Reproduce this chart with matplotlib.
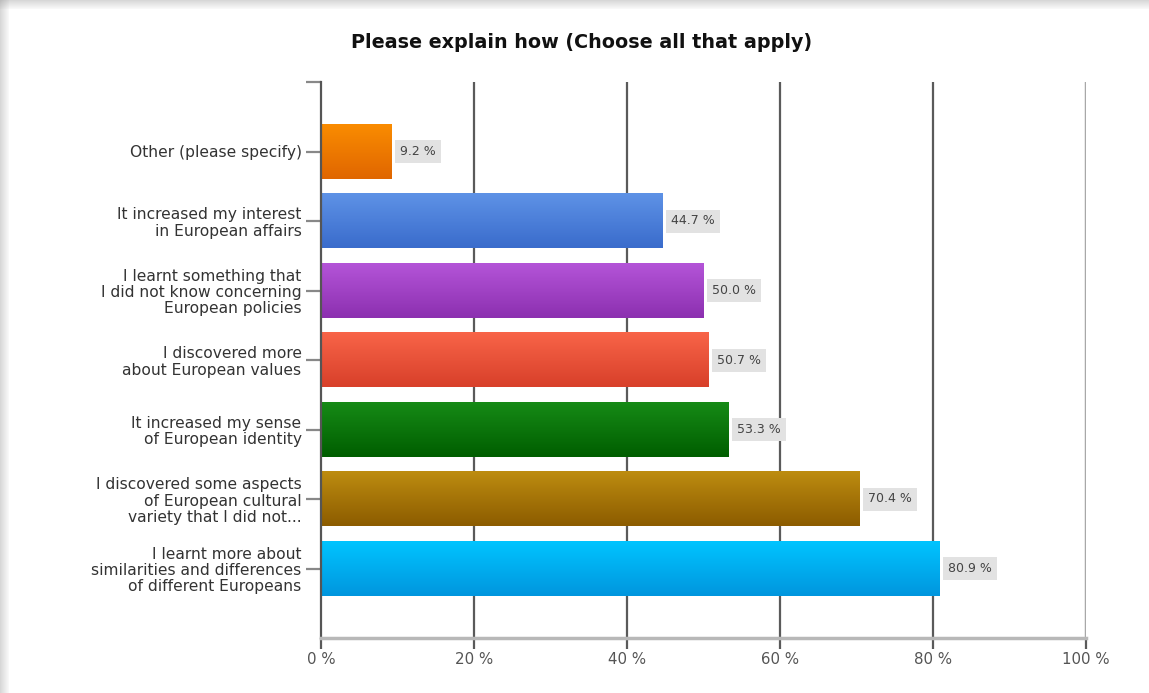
import numpy as np
import matplotlib
matplotlib.use('Agg')
import matplotlib.pyplot as plt
from matplotlib.colors import LinearSegmentedColormap
from matplotlib.patches import Rectangle

plt.rcParams['font.family'] = ['DejaVu Sans']

# data (bottom to top)
categories = ['I learnt more about\nsimilarities and differences\nof different Europeans',
              'I discovered some aspects\nof European cultural\nvariety that I did not...',
              'It increased my sense\nof European identity',
              'I discovered more\nabout European values',
              'I learnt something that\nI did not know concerning\nEuropean policies',
              'It increased my interest\nin European affairs',
              'Other (please specify)']
values = [80.9, 70.4, 53.3, 50.7, 50.0, 44.7, 9.2]
ticks = [0, 20, 40, 60, 80, 100]
tick_labels = ['0 %', '20 %', '40 %', '60 %', '80 %', '100 %']

# top / bottom gradient colours per bar
grad = [('#00c4ff', '#0096de'),
        ('#bd8c10', '#8c5c00'),
        ('#168a16', '#005e00'),
        ('#f86448', '#d8402a'),
        ('#b454d8', '#8c30b0'),
        ('#5e92e6', '#3a6ccc'),
        ('#fa8c00', '#e06600')]

W, H = 1149, 693
fig = plt.figure(figsize=(W / 100, H / 100), dpi=100)
fig.patch.set_facecolor('white')

# card shadow on top and left edges
for i in range(9):
    a = 0.05 + 0.035 * (8 - i)
    fig.patches.append(Rectangle((0, (H - i - 1) / H), 1, 1 / H, transform=fig.transFigure,
                                 color='#888888', alpha=min(a, 0.45), lw=0))
    fig.patches.append(Rectangle((i / W, 0), 1 / W, 1, transform=fig.transFigure,
                                 color='#888888', alpha=min(a, 0.45), lw=0))

ax = fig.add_axes([321 / W, 1 - 638 / H, (1086 - 321) / W, (638 - 82) / H])

# vertical gridlines
for t in ticks[1:-1]:
    ax.axvline(t, color='#5a5a5a', lw=1.6, zorder=1)
ax.axvline(100, color='#a8a8a8', lw=2.5, zorder=1)

ypos = np.arange(len(values))
bh = 0.78
for y, v, (c1, c2) in zip(ypos, values, grad):
    cmap = LinearSegmentedColormap.from_list('g', [c2, c1])
    g = np.linspace(0, 1, 64).reshape(-1, 1)
    ax.imshow(g, cmap=cmap, origin='lower', aspect='auto',
              extent=(0, v, y - bh / 2, y + bh / 2), zorder=2)
    ax.text(v + 1.1, y, f'{v:.1f} %', va='center', ha='left', fontsize=9,
            color='#444444', zorder=3,
            bbox=dict(boxstyle='square,pad=0.4', fc='#e2e2e2', ec='none'))
ax.set_xlim(0, 100)
ax.set_ylim(-1, 7)

for s in ['top', 'right']:
    ax.spines[s].set_visible(False)
ax.spines['left'].set_color('#555555')
ax.spines['left'].set_linewidth(1.6)
ax.spines['bottom'].set_color('#b8b8b8')
ax.spines['bottom'].set_linewidth(2.5)

ax.set_xticks(ticks)
ax.set_xticklabels(tick_labels, fontsize=10.8, color='#555555')
ax.tick_params(axis='x', length=8, width=1.6, color='#5a5a5a', pad=2)
ax.set_yticks(list(ypos) + [7])
ax.set_yticklabels(categories + [''], fontsize=11.2, color='#333333', linespacing=1.1)
ax.tick_params(axis='y', length=11, width=1.6, color='#888888', pad=3)

fig.text(582 / W, 1 - 42 / H, 'Please explain how (Choose all that apply)',
         ha='center', va='center', fontsize=13.8, fontweight='bold', color='#111111')

fig.savefig('out.png', dpi=100)
